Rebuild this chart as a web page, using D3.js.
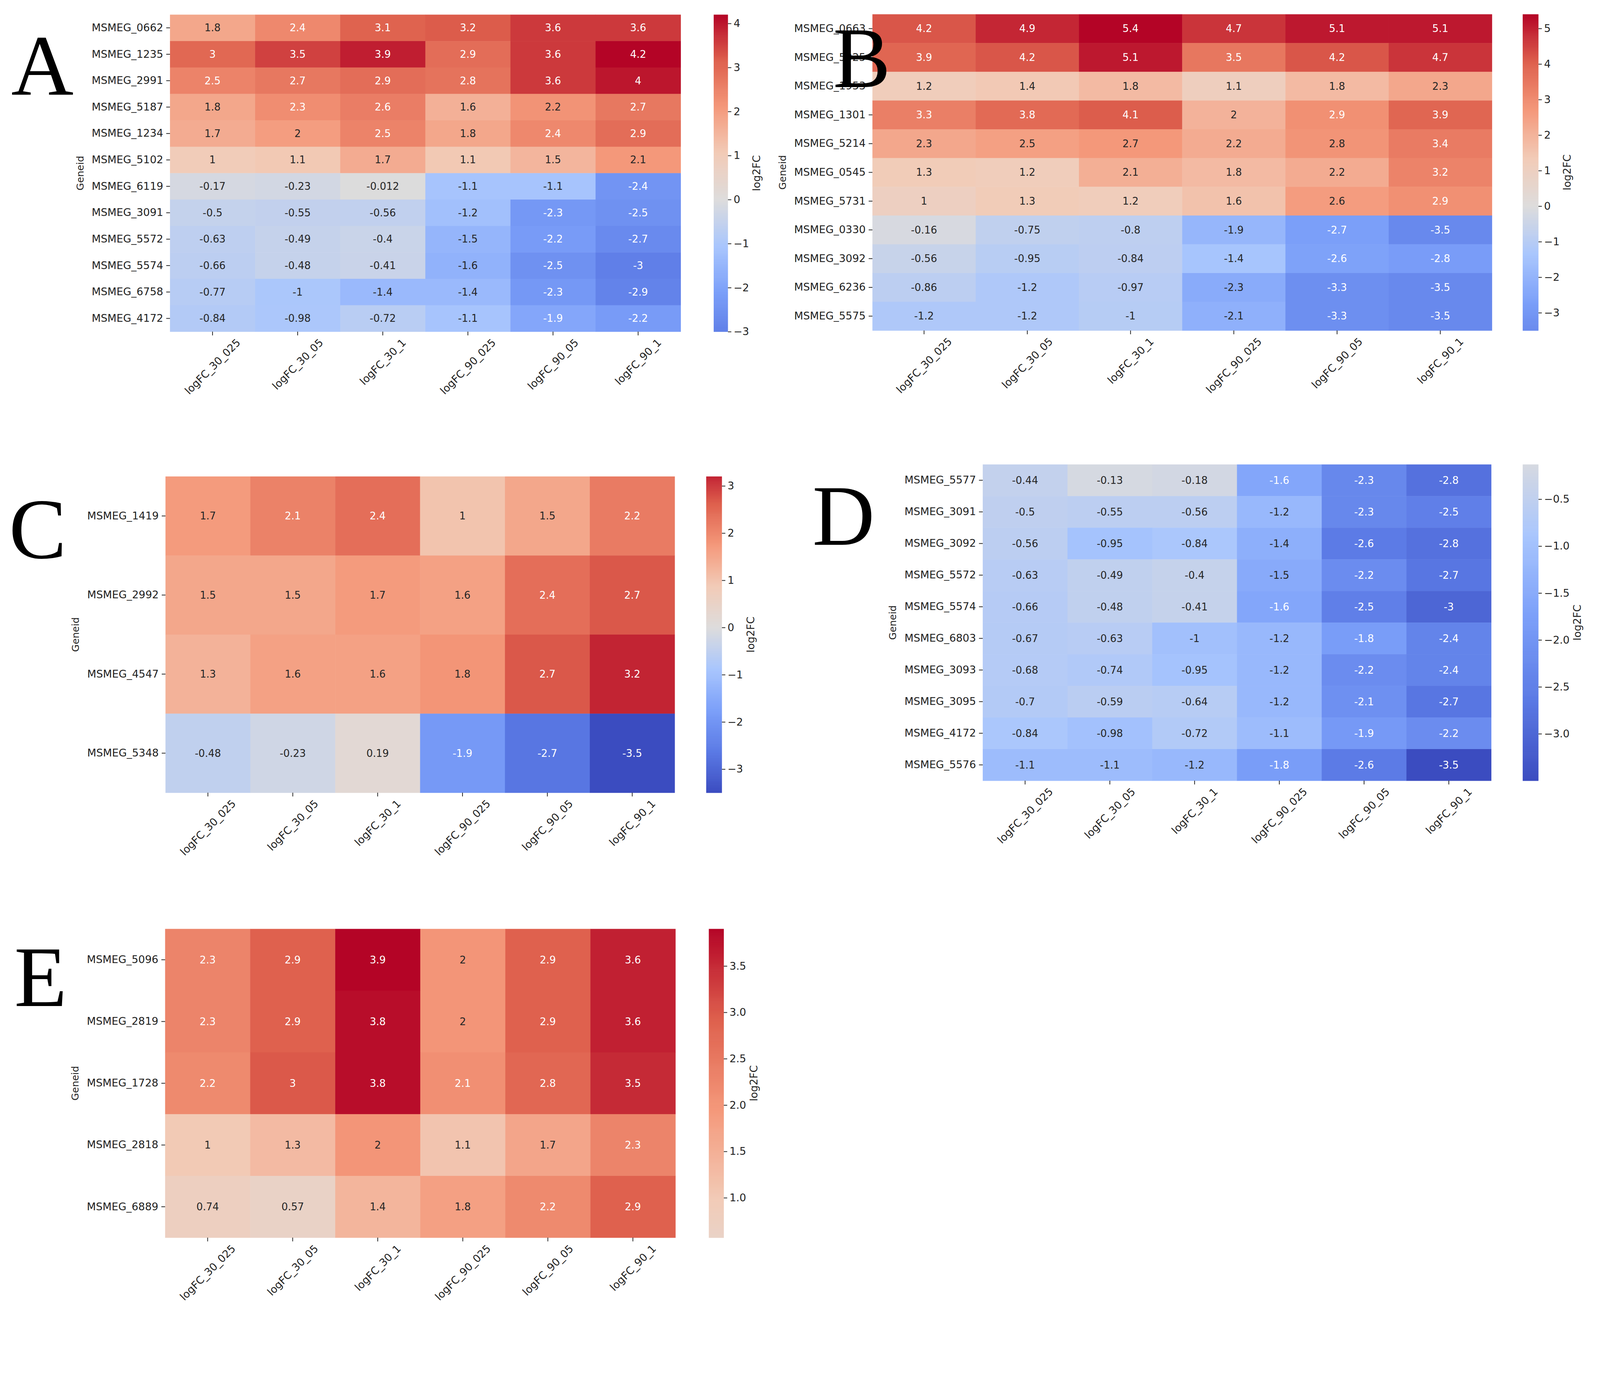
<!DOCTYPE html>
<html><head><meta charset="utf-8">
<script src="https://cdn.jsdelivr.net/npm/d3@7"></script>
<style>html,body{margin:0;padding:0;background:#fff;overflow:hidden}svg{display:block}</style>
</head><body><div id="chart"></div>
<script>
var cols = ["logFC_30_025","logFC_30_05","logFC_30_1","logFC_90_025","logFC_90_05","logFC_90_1"];

var genesA = ["MSMEG_0662","MSMEG_1235","MSMEG_2991","MSMEG_5187","MSMEG_1234","MSMEG_5102","MSMEG_6119","MSMEG_3091","MSMEG_5572","MSMEG_5574","MSMEG_6758","MSMEG_4172"];
var valsA = [[1.8,2.4,3.1,3.2,3.6,3.6],[3,3.5,3.9,2.9,3.6,4.2],[2.5,2.7,2.9,2.8,3.6,4],[1.8,2.3,2.6,1.6,2.2,2.7],
  [1.7,2,2.5,1.8,2.4,2.9],[1,1.1,1.7,1.1,1.5,2.1],[-0.17,-0.23,-0.012,-1.1,-1.1,-2.4],[-0.5,-0.55,-0.56,-1.2,-2.3,-2.5],
  [-0.63,-0.49,-0.4,-1.5,-2.2,-2.7],[-0.66,-0.48,-0.41,-1.6,-2.5,-3],[-0.77,-1,-1.4,-1.4,-2.3,-2.9],[-0.84,-0.98,-0.72,-1.1,-1.9,-2.2]];
var ticksA = [-3,-2,-1,0,1,2,3,4];

var genesB = ["MSMEG_0663","MSMEG_5025","MSMEG_1953","MSMEG_1301","MSMEG_5214","MSMEG_0545","MSMEG_5731","MSMEG_0330","MSMEG_3092","MSMEG_6236","MSMEG_5575"];
var valsB = [[4.2,4.9,5.4,4.7,5.1,5.1],[3.9,4.2,5.1,3.5,4.2,4.7],[1.2,1.4,1.8,1.1,1.8,2.3],[3.3,3.8,4.1,2,2.9,3.9],
  [2.3,2.5,2.7,2.2,2.8,3.4],[1.3,1.2,2.1,1.8,2.2,3.2],[1,1.3,1.2,1.6,2.6,2.9],[-0.16,-0.75,-0.8,-1.9,-2.7,-3.5],
  [-0.56,-0.95,-0.84,-1.4,-2.6,-2.8],[-0.86,-1.2,-0.97,-2.3,-3.3,-3.5],[-1.2,-1.2,-1,-2.1,-3.3,-3.5]];
var ticksB = [-3,-2,-1,0,1,2,3,4,5];

var genesC = ["MSMEG_1419","MSMEG_2992","MSMEG_4547","MSMEG_5348"];
var valsC = [[1.7,2.1,2.4,1,1.5,2.2],[1.5,1.5,1.7,1.6,2.4,2.7],[1.3,1.6,1.6,1.8,2.7,3.2],[-0.48,-0.23,0.19,-1.9,-2.7,-3.5]];
var ticksC = [-3,-2,-1,0,1,2,3];

var genesD = ["MSMEG_5577","MSMEG_3091","MSMEG_3092","MSMEG_5572","MSMEG_5574","MSMEG_6803","MSMEG_3093","MSMEG_3095","MSMEG_4172","MSMEG_5576"];
var valsD = [[-0.44,-0.13,-0.18,-1.6,-2.3,-2.8],[-0.5,-0.55,-0.56,-1.2,-2.3,-2.5],[-0.56,-0.95,-0.84,-1.4,-2.6,-2.8],
  [-0.63,-0.49,-0.4,-1.5,-2.2,-2.7],[-0.66,-0.48,-0.41,-1.6,-2.5,-3],[-0.67,-0.63,-1,-1.2,-1.8,-2.4],
  [-0.68,-0.74,-0.95,-1.2,-2.2,-2.4],[-0.7,-0.59,-0.64,-1.2,-2.1,-2.7],[-0.84,-0.98,-0.72,-1.1,-1.9,-2.2],[-1.1,-1.1,-1.2,-1.8,-2.6,-3.5]];
var ticksD = [-3.0,-2.5,-2.0,-1.5,-1.0,-0.5];

var genesE = ["MSMEG_5096","MSMEG_2819","MSMEG_1728","MSMEG_2818","MSMEG_6889"];
var valsE = [[2.3,2.9,3.9,2,2.9,3.6],[2.3,2.9,3.8,2,2.9,3.6],[2.2,3,3.8,2.1,2.8,3.5],[1,1.3,2,1.1,1.7,2.3],[0.74,0.57,1.4,1.8,2.2,2.9]];
var ticksE = [1.0,1.5,2.0,2.5,3.0,3.5];

// coolwarm approximation
var coolwarm = d3.scaleLinear()
  .domain([0,0.125,0.25,0.375,0.5,0.625,0.75,0.875,1])
  .range(["#3b4cc0","#5b7ae5","#7b9ff9","#a9c6fd","#dddcdc","#f2cbb7","#f4987a","#de604d","#b40426"])
  .interpolate(d3.interpolateRgb).clamp(true);

var W = 4264, H = 3531;
var svg = d3.select("#chart").append("svg")
  .attr("viewBox", `0 0 ${W} ${H}`)
  .attr("preserveAspectRatio", "xMinYMin meet")
  .style("width", "100vw").style("height", "100vh");
var font = "DejaVu Sans";

function lum(c) {
  var r = d3.rgb(c);
  var f = v => { v /= 255; return v <= 0.03928 ? v/12.92 : Math.pow((v+0.055)/1.055, 2.4); };
  return 0.2126*f(r.r) + 0.7152*f(r.g) + 0.0722*f(r.b);
}
var fmtMinus = s => String(s).replace("-", "\u2212");

function heatmap(p) {
  var g = svg.append("g");
  var flat = p.vals.flat();
  var vmin = d3.min(flat), vmax = d3.max(flat);
  var R = Math.max(Math.abs(vmin), Math.abs(vmax));
  var color = v => coolwarm((v + R) / (2*R));

  var x = d3.scaleBand().domain(cols).range([p.x0, p.x1]);
  var y = d3.scaleBand().domain(p.genes).range([p.y0, p.y1]);

  var cells = [];
  p.vals.forEach((row, i) => row.forEach((v, j) => cells.push({g: p.genes[i], c: cols[j], v: v})));

  g.selectAll("rect.cell").data(cells).enter().append("rect")
    .attr("x", d => x(d.c)).attr("y", d => y(d.g))
    .attr("width", x.bandwidth() + 0.5).attr("height", y.bandwidth() + 0.5)
    .attr("fill", d => color(d.v));

  g.selectAll("text.annot").data(cells).enter().append("text")
    .attr("x", d => x(d.c) + x.bandwidth()/2).attr("y", d => y(d.g) + y.bandwidth()/2)
    .attr("text-anchor", "middle").attr("dominant-baseline", "central")
    .attr("font-family", font).attr("font-size", 27)
    .attr("fill", d => lum(color(d.v)) < 0.408 ? "#fff" : "#262626")
    .text(d => d.v);

  // y axis
  var ya = g.append("g").attr("transform", `translate(${p.x0},0)`)
    .call(d3.axisLeft(y).tickSize(10).tickPadding(8));
  ya.select(".domain").remove();
  ya.selectAll("text").attr("font-family", font).attr("font-size", 28).attr("fill", "#222");
  ya.selectAll("line").attr("stroke", "#222").attr("stroke-width", 2);

  // x axis
  var xa = g.append("g").attr("transform", `translate(0,${p.y1})`)
    .call(d3.axisBottom(x).tickSize(10).tickFormat(""));
  xa.select(".domain").remove();
  xa.selectAll("line").attr("stroke", "#222").attr("stroke-width", 2);
  g.selectAll("text.xl").data(cols).enter().append("text")
    .attr("font-family", font).attr("font-size", 28).attr("fill", "#222")
    .attr("text-anchor", "middle").attr("dominant-baseline", "central")
    .text(d => d)
    .each(function(d) {
      var L = this.getComputedTextLength();
      var off = L * Math.SQRT1_2 / 2 + 24;
      d3.select(this).attr("transform", `translate(${x(d) + x.bandwidth()/2},${p.y1 + off}) rotate(-45)`);
    });

  // Geneid label
  var maxLab = d3.max(ya.selectAll("text").nodes(), n => n.getComputedTextLength());
  g.append("text")
    .attr("transform", `translate(${p.x0 - 18 - maxLab - 22},${(p.y0+p.y1)/2}) rotate(-90)`)
    .attr("text-anchor", "middle").attr("font-family", font).attr("font-size", 26).attr("fill", "#222")
    .text("Geneid");

  // colorbar
  var cb = d3.scaleLinear().domain([vmin, vmax]).range([p.y1, p.y0]);
  var steps = d3.range(0, 200);
  var sh = (p.y1 - p.y0) / 200;
  g.selectAll("rect.cb").data(steps).enter().append("rect")
    .attr("x", p.cx0).attr("width", p.cx1 - p.cx0)
    .attr("y", i => p.y1 - (i+1)*sh).attr("height", sh + 0.6)
    .attr("fill", i => color(vmin + (vmax - vmin) * (i + 0.5) / 200));
  var fmt = p.dec ? d3.format(".1f") : d3.format("d");
  var ca = g.append("g").attr("transform", `translate(${p.cx1},0)`)
    .call(d3.axisRight(cb).tickValues(p.ticks).tickSize(9).tickPadding(6).tickFormat(d => fmtMinus(fmt(d))));
  ca.select(".domain").remove();
  ca.selectAll("text").attr("font-family", font).attr("font-size", 28).attr("fill", "#222");
  ca.selectAll("line").attr("stroke", "#222").attr("stroke-width", 2);
  var maxT = d3.max(ca.selectAll("text").nodes(), n => n.getComputedTextLength());
  g.append("text")
    .attr("transform", `translate(${p.cx1 + 15 + maxT + 30},${(p.y0+p.y1)/2}) rotate(-90)`)
    .attr("text-anchor", "middle").attr("font-family", font).attr("font-size", 28).attr("fill", "#222")
    .text("log2FC");

  // panel letter
  g.append("text").attr("x", p.lx).attr("y", p.ly)
    .attr("font-family", "Liberation Serif").attr("font-size", 230).attr("fill", "#000")
    .text(p.letter);
}

heatmap({letter:"A", genes:genesA, vals:valsA, ticks:ticksA, x0:453, x1:1814, y0:39, y1:884, cx0:1902, cx1:1940, lx:30, ly:252});
heatmap({letter:"B", genes:genesB, vals:valsB, ticks:ticksB, x0:2325, x1:3976, y0:38, y1:881, cx0:4058, cx1:4100, lx:2220, ly:232});
heatmap({letter:"C", genes:genesC, vals:valsC, ticks:ticksC, x0:441, x1:1798, y0:1270, y1:2113, cx0:1882, cx1:1924, lx:24, ly:1488});
heatmap({letter:"D", genes:genesD, vals:valsD, ticks:ticksD, dec:true, x0:2619, x1:3974, y0:1238, y1:2081, cx0:4058, cx1:4100, lx:2165, ly:1452});
heatmap({letter:"E", genes:genesE, vals:valsE, ticks:ticksE, dec:true, x0:440, x1:1800, y0:2476, y1:3299, cx0:1889, cx1:1929, lx:38, ly:2682});
</script></body></html>
